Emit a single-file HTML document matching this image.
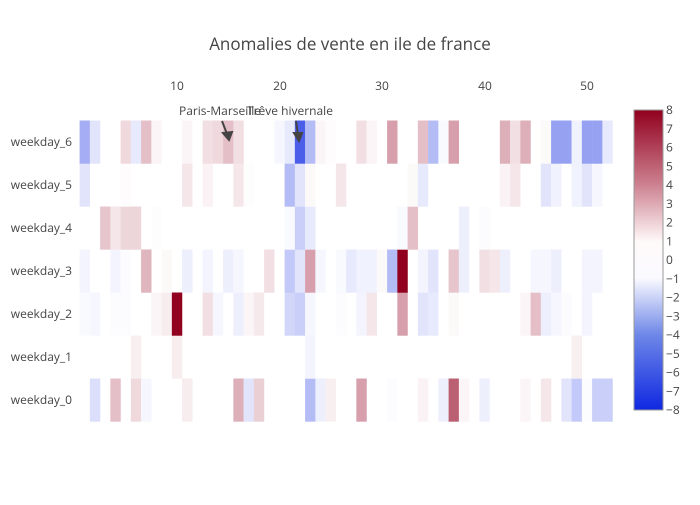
<!DOCTYPE html>
<html><head><meta charset="utf-8"><style>
body{margin:0;background:#fff}
svg{font-family:"Open Sans","Liberation Sans",sans-serif;fill:#444}
</style></head><body>
<svg id="s" width="700" height="500" xmlns="http://www.w3.org/2000/svg">
<text x="350" y="50" text-anchor="middle" font-size="17" fill="#444">Anomalies de vente en ile de france</text>
<g id="cells"></g>
<g font-size="12" fill="#444" text-anchor="middle">
<text x="177" y="90">10</text><text x="280" y="90">20</text><text x="382" y="90">30</text><text x="485" y="90">40</text><text x="587" y="90">50</text>
</g>
<g font-size="12" fill="#444" text-anchor="end">
<text x="72" y="146">weekday_6</text><text x="72" y="189">weekday_5</text><text x="72" y="232">weekday_4</text><text x="72" y="275">weekday_3</text><text x="72" y="318">weekday_2</text><text x="72" y="361">weekday_1</text><text x="72" y="404">weekday_0</text>
</g>
<defs><linearGradient id="cb" x1="0" y1="1" x2="0" y2="0">
<stop offset="0" stop-color="rgb(15,40,225)"/>
<stop offset="0.25" stop-color="rgb(110,135,232)"/>
<stop offset="0.44" stop-color="rgb(250,250,255)"/>
<stop offset="0.56" stop-color="rgb(255,250,250)"/>
<stop offset="0.75" stop-color="rgb(205,130,145)"/>
<stop offset="1" stop-color="rgb(145,0,30)"/>
</linearGradient></defs>
<rect x="634" y="110" width="29" height="300" fill="url(#cb)" stroke="#999" stroke-width="1"/>
<g id="cbl" font-size="12" fill="#444"></g>
<g font-size="12" fill="#444" text-anchor="middle">
<text x="220" y="115">Paris-Marseille</text>
<text x="290" y="115">Trêve hivernale</text>
</g>
<g stroke="#444" stroke-width="2" fill="#444">
<line x1="222" y1="121" x2="227" y2="134"/><polygon points="223,133 232,132 229,140"/>
<line x1="296" y1="121" x2="298" y2="135"/><polygon points="294,133 302,133 299,141"/>
</g>
</svg>
<script>
var V={
6:{1:-3,2:-1,5:1.2,6:-0.8,7:2,8:0.3,11:0.3,13:1,14:1.2,15:2,16:1,20:-0.3,21:-0.8,22:-6,23:-2.5,24:0.3,25:0.1,28:1,29:0.3,31:3,34:2,35:-2.5,36:-0.2,37:3,42:2.5,43:1,44:2.5,46:0.2,47:-3.5,48:-3.5,49:-0.5,50:-3.5,51:-3.5,52:-0.8},
5:{1:-1,5:0.1,11:0.8,13:0.4,16:0.8,17:0.05,21:-2.5,22:-1,23:0.2,26:0.8,33:0.2,34:-0.8,42:0.4,43:0.8,46:-1,47:-0.5,49:-0.5,50:-1,51:-0.3},
4:{3:1.8,4:0.8,5:1.3,6:1.3,8:0.05,21:-0.2,22:-1.8,23:-0.8,32:-0.2,33:2,38:-0.6,40:-0.1},
3:{1:-0.4,4:-0.4,5:-0.1,7:2.3,9:0.2,11:-0.6,13:-0.4,15:-0.6,16:-0.3,19:1,21:-2,22:-1,23:3,24:-0.3,26:-0.2,27:-0.8,28:-0.5,29:-0.5,30:0.2,31:-2.5,32:8,34:-0.4,35:-1,37:1.8,38:-0.6,40:1,41:0.8,42:-0.6,45:-0.3,46:-0.3,47:-0.6,50:-0.4,51:-0.4},
2:{1:-0.2,2:-0.3,4:-0.1,5:-0.1,8:0.3,9:0.6,10:8,13:1,14:-0.3,16:-0.6,17:0.3,18:0.7,21:-1.5,22:-1.8,23:-0.3,26:-0.1,28:-0.4,29:0.8,32:3,34:-1,35:-0.8,37:0.2,44:0.3,45:2,46:-0.6,47:-0.3,48:-0.1,50:-0.4},
1:{6:0.5,10:0.6,23:-0.4,49:0.5},
0:{2:-1.2,4:2,6:1.2,7:-0.3,11:0.6,16:2.5,17:-1,18:1.5,23:-2.5,24:-0.6,25:0.5,28:3,31:-0.1,34:0.4,36:-0.6,37:5,38:0.3,40:-0.6,44:0.3,46:0.8,48:-1,49:-2,50:-0.1,51:-1.8,52:-1.8}};
function col(v){var t=Math.min(Math.abs(v)/8,1),e;
if(v<0){e=[15,40,225];}else{e=[145,0,30];}
var r=Math.round(255+(e[0]-255)*t),g=Math.round(255+(e[1]-255)*t),b=Math.round(255+(e[2]-255)*t);
return "rgb("+r+","+g+","+b+")";}
var ns="http://www.w3.org/2000/svg",G=document.getElementById("cells"),h="";
for(var d=0;d<7;d++){var y=120.5+(6-d)*43;for(var k=1;k<=52;k++){var v=V[d][k]||0;if(!v)continue;
var x=79.6+10.25*(k-1);h+='<rect x="'+x.toFixed(2)+'" y="'+y+'" width="10.4" height="43.2" fill="'+col(v)+'"/>';}}
G.innerHTML=h;
var L="";for(var i=8;i>=-8;i--){var yy=110+(8-i)*300/16+4;L+='<text x="666" y="'+yy.toFixed(1)+'">'+(i<0?"\u2212"+(-i):i)+'</text>';}
document.getElementById("cbl").innerHTML=L;
</script>
</body></html>
